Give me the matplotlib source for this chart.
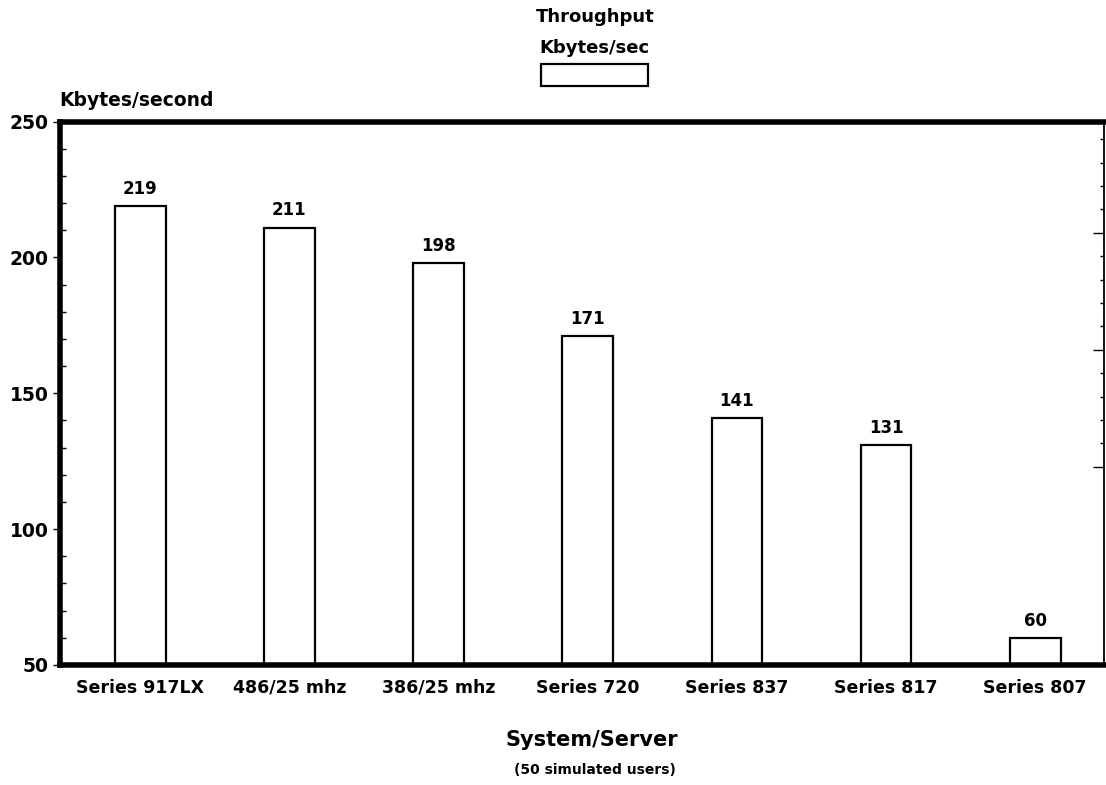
import numpy as np
import matplotlib.pyplot as plt
from matplotlib.ticker import MultipleLocator, FixedLocator

plt.rcParams['font.family'] = ['DejaVu Sans']
plt.rcParams['font.weight'] = 'bold'

#data
systems = ['Series 917LX', '486/25 mhz', '386/25 mhz', 'Series 720',
           'Series 837', 'Series 817', 'Series 807']
throughput = [219, 211, 198, 171, 141, 131, 60]
y_ticks = [50, 100, 150, 200, 250]

base = 50  #bars start at the bottom of the axis

fig = plt.figure(figsize=(11.06, 7.85), dpi=100)
ax = fig.add_axes([0.054, 0.153, 0.944, 0.692])

x = np.arange(len(systems))
heights = np.array(throughput) - base
bars = ax.bar(x, heights, bottom=base, width=0.34, color='white',
              edgecolor='black', linewidth=1.6, label='')

for xi, v in zip(x, throughput):
    ax.text(xi, v + 3, f'{v}', ha='center', va='bottom', fontsize=12,
            fontweight='bold')

ax.set_xlim(-0.54, 6.46)
ax.set_ylim(50, 250)
ax.set_xticks(x)
ax.set_xticklabels(systems, fontsize=12.5, fontweight='bold')
ax.set_yticks(y_ticks)
ax.set_yticklabels([str(t) for t in y_ticks], fontsize=13.5, fontweight='bold')
ax.yaxis.set_minor_locator(MultipleLocator(10))
ax.tick_params(axis='x', length=0, pad=10)
ax.tick_params(axis='y', which='major', direction='out', length=5, width=1, pad=3)
ax.tick_params(axis='y', which='minor', direction='in', length=4, width=1)

#heavy frame on three sides, thin on the right
for side in ['left', 'top', 'bottom']:
    ax.spines[side].set_linewidth(4)
ax.spines['right'].set_linewidth(1.3)

#right-hand tick marks (separate scale on the original)
ax2 = ax.twinx()
ax2.set_ylim(1.54, 24.75)
ax2.yaxis.set_major_locator(FixedLocator([10, 15, 20]))
ax2.yaxis.set_minor_locator(FixedLocator(list(range(10, 25))))
ax2.set_yticklabels([])
ax2.tick_params(axis='y', which='major', direction='in', length=8, width=1)
ax2.tick_params(axis='y', which='minor', direction='in', length=3, width=1)
for side in ['left', 'top', 'bottom', 'right']:
    ax2.spines[side].set_visible(False)

ax.text(0.0, 1.022, 'Kbytes/second', transform=ax.transAxes, ha='left',
        va='bottom', fontsize=13.5, fontweight='bold')

leg = ax.legend(handles=[bars], labels=[''], title='Throughput\nKbytes/sec',
                loc='lower center', bbox_to_anchor=(0.5125, 1.053), frameon=False,
                fontsize=10, handlelength=7.7, handleheight=2.1, handletextpad=0,
                borderpad=0, title_fontsize=13, alignment='center')
leg.get_title().set_fontweight('bold')
leg.get_title().set_linespacing(1.9)
leg.get_title().set_ha('center')

fig.text(0.535, 0.057, 'System/Server', ha='center', va='center',
         fontsize=15, fontweight='bold')
fig.text(0.538, 0.019, '(50 simulated users)', ha='center', va='center',
         fontsize=10, fontweight='bold')

fig.savefig('out.png', dpi=100)
